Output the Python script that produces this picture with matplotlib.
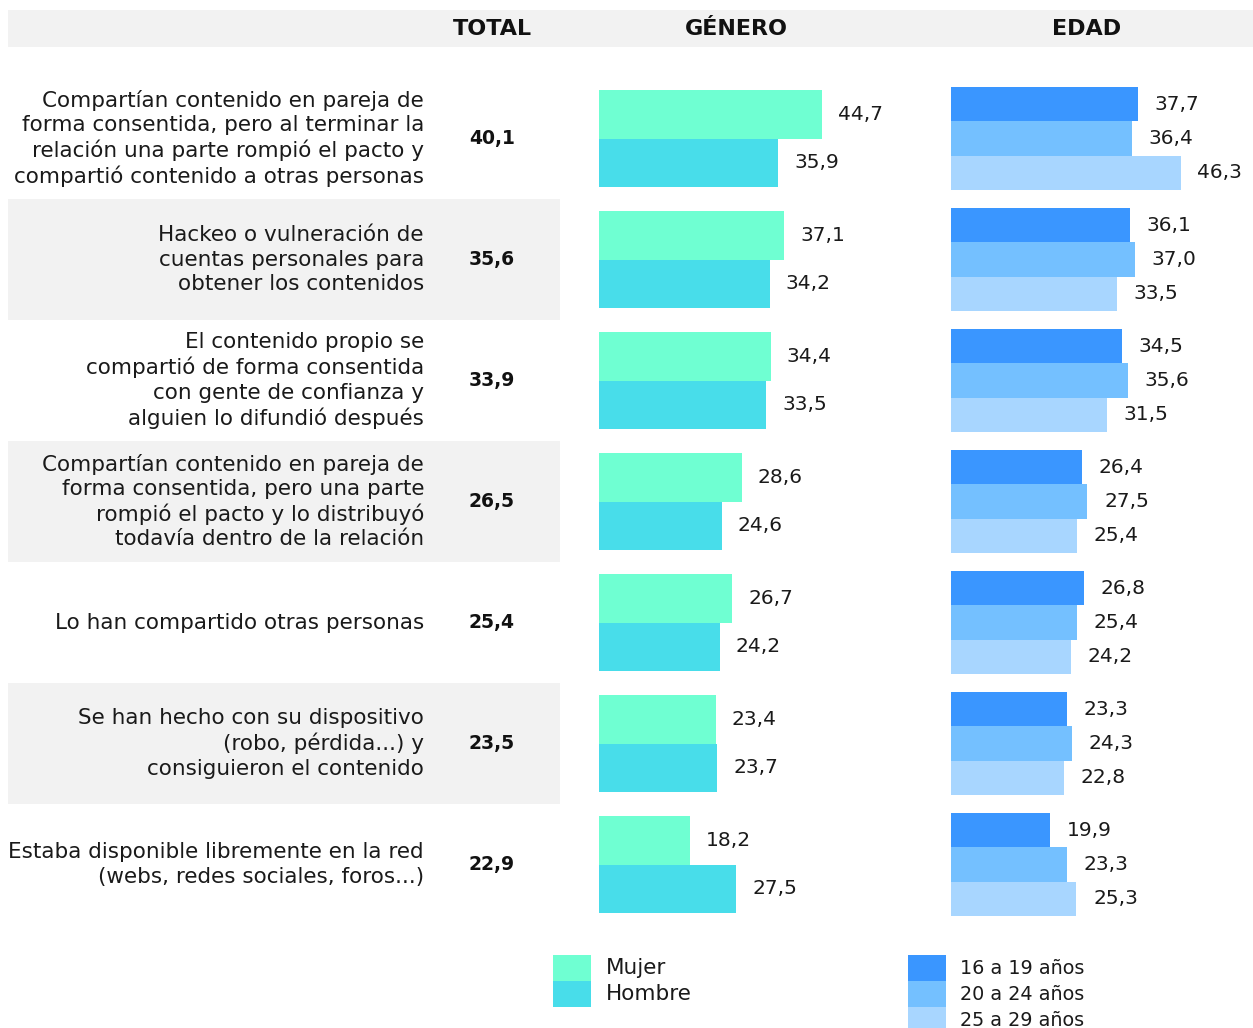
import matplotlib.pyplot as plt
from matplotlib.patches import Rectangle

plt.rcParams['font.family'] = ['DejaVu Sans']

# Data
labels = [
    'Compartían contenido en pareja de\nforma consentida, pero al terminar la\nrelación una parte rompió el pacto y\ncompartió contenido a otras personas',
    'Hackeo o vulneración de\ncuentas personales para\nobtener los contenidos',
    'El contenido propio se\ncompartió de forma consentida\ncon gente de confianza y\nalguien lo difundió después',
    'Compartían contenido en pareja de\nforma consentida, pero una parte\nrompió el pacto y lo distribuyó\ntodavía dentro de la relación',
    'Lo han compartido otras personas',
    'Se han hecho con su dispositivo\n(robo, pérdida...) y\nconsiguieron el contenido',
    'Estaba disponible libremente en la red\n(webs, redes sociales, foros...)',
]
total = [40.1, 35.6, 33.9, 26.5, 25.4, 23.5, 22.9]
mujer = [44.7, 37.1, 34.4, 28.6, 26.7, 23.4, 18.2]
hombre = [35.9, 34.2, 33.5, 24.6, 24.2, 23.7, 27.5]
edad_16_19 = [37.7, 36.1, 34.5, 26.4, 26.8, 23.3, 19.9]
edad_20_24 = [36.4, 37.0, 35.6, 27.5, 25.4, 24.3, 23.3]
edad_25_29 = [46.3, 33.5, 31.5, 25.4, 24.2, 22.8, 25.3]

gender_names = ['Mujer', 'Hombre']
age_names = ['16 a 19 años', '20 a 24 años', '25 a 29 años']
gender_colors = ['#6fffd2', '#48ddea']
age_colors = ['#3a96ff', '#74c0ff', '#a8d6ff']

W, H = 1253, 1028
fig = plt.figure(figsize=(W / 100, H / 100), dpi=100)

def fx(px):
    return px / W

def fy(py):
    return 1 - py / H

def fmt(v):
    return f'{v:.1f}'.replace('.', ',')

n = len(labels)
top, bottom = 78, 925
rows = list(range(n))
txt_color = '#1a1a1a'
fs_lab = 15.5
fs_val = 14.5

# background axes: row bands, category labels, totals
ax_bg = fig.add_axes([0, fy(bottom), 1, (bottom - top) / H])
ax_bg.set_xlim(0, W)
ax_bg.set_ylim(n - 0.5, -0.5)
ax_bg.axis('off')
for i in rows:
    if i % 2 == 1:
        ax_bg.axhspan(i - 0.5, i + 0.5, xmin=8 / W, xmax=560 / W, color='#f2f2f2', lw=0)
    ax_bg.text(424, i, labels[i], ha='right', va='center', fontsize=fs_lab,
               linespacing=1.27, color=txt_color)
    ax_bg.text(492, i, fmt(total[i]), ha='center', va='center',
               fontsize=13.5, fontweight='bold', color='#111111')

# header
fig.patches.append(Rectangle((fx(8), fy(47)), fx(W - 8), (47 - 10) / H,
                             transform=fig.transFigure, color='#f2f2f2', lw=0, zorder=0))
for txt, x in [('TOTAL', 492), ('GÉNERO', 736), ('EDAD', 1087)]:
    fig.text(fx(x), fy(29), txt, ha='center', va='center', fontsize=16,
             fontweight='bold', color='#111111')

# gender axes
ax_g = fig.add_axes([fx(599), fy(bottom), 300 / W, (bottom - top) / H])
ax_g.set_xlim(0, 300 / 4.99)
ax_g.set_ylim(n - 0.5, -0.5)
ax_g.axis('off')
gh = 0.397
for k, series in enumerate([mujer, hombre]):
    ys = [i + (k - 0.5) * gh for i in rows]
    ax_g.barh(ys, series, height=gh, color=gender_colors[k], lw=0)
    for y, v in zip(ys, series):
        ax_g.annotate(fmt(v), (v, y), xytext=(11.5, 0), textcoords='offset points',
                      ha='left', va='center', fontsize=fs_val, color=txt_color)

# age axes
ax_a = fig.add_axes([fx(951), fy(bottom), 300 / W, (bottom - top) / H])
ax_a.set_xlim(0, 300 / 4.96)
ax_a.set_ylim(n - 0.5, -0.5)
ax_a.axis('off')
ah = 0.285
for k, series in enumerate([edad_16_19, edad_20_24, edad_25_29]):
    ys = [i + (k - 1) * ah for i in rows]
    ax_a.barh(ys, series, height=ah, color=age_colors[k], lw=0)
    for y, v in zip(ys, series):
        ax_a.annotate(fmt(v), (v, y), xytext=(12, 0), textcoords='offset points',
                      ha='left', va='center', fontsize=fs_val, color=txt_color)

# legends
for k, name in enumerate(gender_names):
    y0 = 955 + k * 26
    fig.patches.append(Rectangle((fx(553), fy(y0 + 26)), 38 / W, 26 / H,
                                 transform=fig.transFigure, color=gender_colors[k], lw=0))
    fig.text(fx(606), fy(y0 + 13), name, ha='left', va='center', fontsize=15.5, color=txt_color)
for k, name in enumerate(age_names):
    y0 = 955 + k * 26
    fig.patches.append(Rectangle((fx(908), fy(y0 + 26)), 38 / W, 26 / H,
                                 transform=fig.transFigure, color=age_colors[k], lw=0))
    fig.text(fx(960), fy(y0 + 13), name, ha='left', va='center', fontsize=13.8, color=txt_color)

fig.savefig('out.png', dpi=100)
